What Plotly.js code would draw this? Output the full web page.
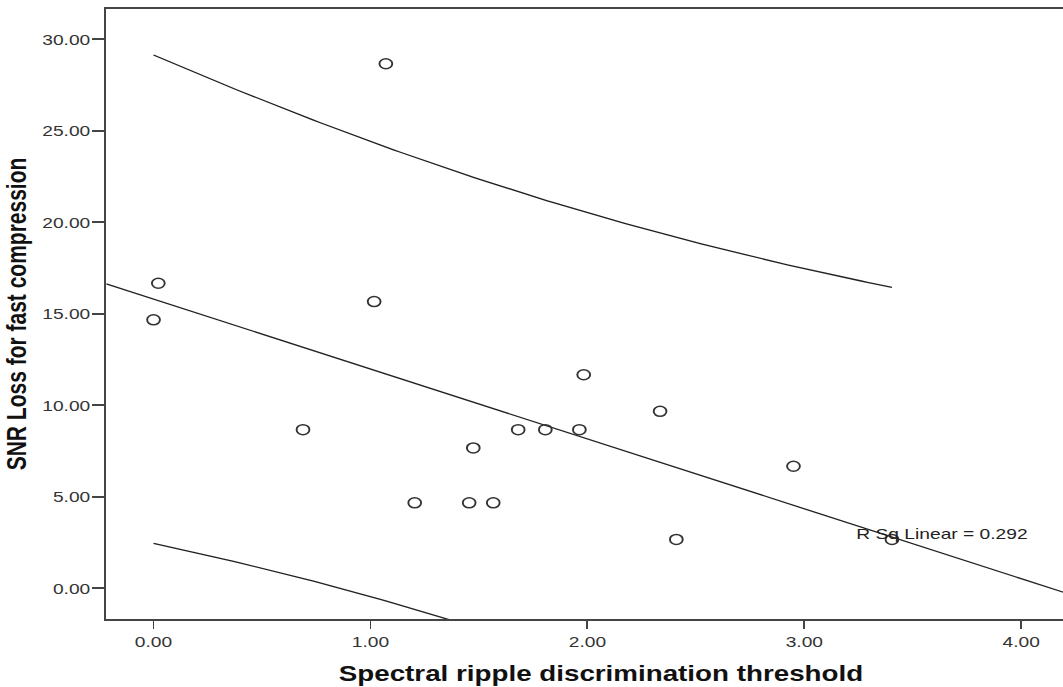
<!DOCTYPE html>
<html>
<head>
<meta charset="utf-8">
<script src="https://cdn.plot.ly/plotly-3.0.1.min.js"></script>
<style>
  html, body { margin: 0; padding: 0; background: #fff; overflow: hidden; }
  #wrap { width: 1063px; height: 687px; overflow: hidden; position: relative; }
  #plot { width: 856px; height: 687px; transform: scaleX(1.28); transform-origin: 0 0; }
</style>
</head>
<body>
<div id="wrap"><div id="plot"></div></div>
<script>
// ---- data ----
const spectralRipple = [0.00, 0.022, 0.689, 1.071, 1.017, 1.204, 1.455, 1.566, 1.474, 1.681, 1.806, 1.963, 1.983, 2.335, 2.410, 2.950, 3.404];
const snrLoss        = [14.67, 16.67, 8.67, 28.67, 15.67, 4.67, 4.67, 4.67, 7.67, 8.67, 8.67, 8.67, 11.67, 9.67, 2.67, 6.67, 2.67];
const xTickVals = [0, 1, 2, 3, 4];
const yTickVals = [0, 5, 10, 15, 20, 25, 30];
const xRange = [-0.218, 4.343];
const yRange = [-1.68, 31.66];
const T_CRIT = 2.131; // t(0.975, df = n - 2 = 15)

// ---- linear regression with 95% individual prediction interval ----
const n = spectralRipple.length;
const mx = spectralRipple.reduce((a, b) => a + b, 0) / n;
const my = snrLoss.reduce((a, b) => a + b, 0) / n;
let sxx = 0, sxy = 0, syy = 0;
for (let i = 0; i < n; i++) {
  const dx = spectralRipple[i] - mx, dy = snrLoss[i] - my;
  sxx += dx * dx; sxy += dx * dy; syy += dy * dy;
}
const slope = sxy / sxx;
const intercept = my - slope * mx;
const r2 = (sxy * sxy) / (sxx * syy);
const s = Math.sqrt((syy - slope * sxy) / (n - 2));
const fit = x => intercept + slope * x;

const xmin = Math.min(...spectralRipple), xmax = Math.max(...spectralRipple);
const curveX = [], upperY = [], lowerY = [];
const steps = 120;
for (let k = 0; k <= steps; k++) {
  const x = xmin + (xmax - xmin) * k / steps;
  const hw = T_CRIT * s * Math.sqrt(1 + 1 / n + (x - mx) * (x - mx) / sxx);
  curveX.push(x); upperY.push(fit(x) + hw); lowerY.push(fit(x) - hw);
}

const lineStyle = { color: '#222', width: 1.3 };
const traces = [
  { x: curveX, y: upperY, mode: 'lines', line: lineStyle, hoverinfo: 'skip' },
  { x: curveX, y: lowerY, mode: 'lines', line: lineStyle, hoverinfo: 'skip' },
  { x: xRange, y: xRange.map(fit), mode: 'lines', line: lineStyle, hoverinfo: 'skip' },
  { x: spectralRipple, y: snrLoss, mode: 'markers', cliponaxis: false,
    marker: { symbol: 'circle-open', size: 10, color: '#333', line: { width: 1.5 } } }
];

const tickFont = { family: 'Liberation Sans, Arial, sans-serif', size: 15, color: '#333' };
const titleFont = { family: 'Liberation Sans, Arial, sans-serif', size: 21.7, color: '#111' };

const layout = {
  width: 856, height: 687,
  margin: { l: 83, r: 0, t: 9, b: 68 },
  paper_bgcolor: '#fff', plot_bgcolor: '#fff',
  showlegend: false,
  xaxis: {
    range: xRange, tickvals: xTickVals, tickformat: '.2f',
    showgrid: false, zeroline: false,
    showline: true, linecolor: '#444', linewidth: 2, mirror: true,
    ticks: 'outside', ticklen: 8, tickwidth: 1.5, tickcolor: '#444',
    tickfont: tickFont,
    title: { text: '<b>Spectral ripple discrimination threshold</b>', font: titleFont, standoff: 17 }
  },
  yaxis: {
    range: yRange, tickvals: yTickVals, tickformat: '.2f',
    showgrid: false, zeroline: false,
    showline: true, linecolor: '#444', linewidth: 1.5,
    ticks: 'outside', ticklen: 10, tickwidth: 2, tickcolor: '#444',
    ticklabelstandoff: -2,
    tickfont: tickFont,
    title: { text: '<b>SNR Loss for fast compression</b>', font: { family: titleFont.family, size: 21, color: '#111' }, standoff: 6 }
  },
  annotations: [{
    x: 3.23, y: 3.02, xref: 'x', yref: 'y', xanchor: 'left', yanchor: 'middle',
    text: 'R Sq Linear = ' + r2.toFixed(3), showarrow: false,
    font: { family: 'Liberation Sans, Arial, sans-serif', size: 15, color: '#222' }
  }]
};

Plotly.newPlot('plot', traces, layout, { staticPlot: true, displayModeBar: false });
</script>
</body>
</html>
